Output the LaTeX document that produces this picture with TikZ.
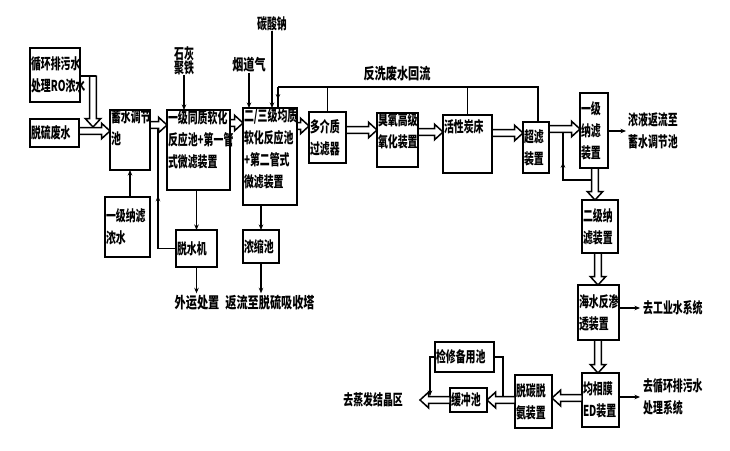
\documentclass[tikz,border=0pt]{standalone}
\usepackage{fontspec}
\setmainfont{Noto Sans CJK SC}[FakeStretch=0.66]
\newfontfamily\widecjk{Noto Sans CJK SC}[FakeStretch=0.72]
\usetikzlibrary{arrows.meta,calc,decorations.markings}
\newcommand\boxfont{\bfseries\fontsize{15}{22}\selectfont}
\newcommand\lblfont{\widecjk\bfseries\fontsize{15.5}{22}\selectfont}
\newcommand\dblsw{3.3pt}
\newcommand\dblhw{7.8pt}
\newcommand\dblhl{8.5pt}
\newcommand\blk[7]{\node[box, anchor=north west, minimum width=#4pt, minimum height=#5pt] (#1) at (#2,#3) {\parbox[c][#5pt][#6]{\dimexpr#4pt-2pt\relax}{\raggedright #7}};}
\tikzset{
  box/.style={draw, line width=1.4pt, inner sep=0pt, outer sep=0pt, font=\boxfont},
  lbl/.style={inner sep=0pt, align=left, font=\boxfont},
  wlbl/.style={inner sep=0pt, align=left, font=\lblfont},
  ln/.style={line width=1.2pt},
  conn/.style={ln, -{Stealth[length=5.5pt,width=4.5pt]}},
  midarr/.style={postaction={decorate}, decoration={markings, mark=at position #1 with {\arrow{Stealth[length=5.5pt,width=4.5pt]}}}},
  dbl/.style={draw, fill=white, line width=1.5pt, line join=miter},
  dblR/.style={dbl, to path={let \p1=(\tikztostart), \p2=(\tikztotarget) in
    (\x1,\y1+\dblsw) -- (\x2-\dblhl,\y1+\dblsw) -- (\x2-\dblhl,\y1+\dblhw) -- (\x2,\y1) -- (\x2-\dblhl,\y1-\dblhw) -- (\x2-\dblhl,\y1-\dblsw) -- (\x1,\y1-\dblsw) -- cycle}},
  dblL/.style={dbl, to path={let \p1=(\tikztostart), \p2=(\tikztotarget) in
    (\x1,\y1+\dblsw) -- (\x2+\dblhl,\y1+\dblsw) -- (\x2+\dblhl,\y1+\dblhw) -- (\x2,\y1) -- (\x2+\dblhl,\y1-\dblhw) -- (\x2+\dblhl,\y1-\dblsw) -- (\x1,\y1-\dblsw) -- cycle}},
  dblD/.style={dbl, to path={let \p1=(\tikztostart), \p2=(\tikztotarget) in
    (\x1+\dblsw,\y1) -- (\x1+\dblsw,\y2+\dblhl) -- (\x1+\dblhw,\y2+\dblhl) -- (\x1,\y2) -- (\x1-\dblhw,\y2+\dblhl) -- (\x1-\dblsw,\y2+\dblhl) -- (\x1-\dblsw,\y1) -- cycle}},
}
\begin{document}
\begin{tikzpicture}[x=1pt,y=-1pt]
\useasboundingbox[fill=white] (0,0) rectangle (730,450);
% boxes
\blk{ro}{30}{48}{50}{54}{c}{循环排污水\\处理RO浓水}
\blk{tl}{30}{119}{49}{28}{c}{脱硫废水}
\blk{xs}{110}{110}{40}{60}{t}{蓄水调节\\池}
\blk{nfc}{105}{197}{45}{60}{c}{一级纳滤\\浓水}
\blk{ra}{167}{110}{63}{80}{t}{一级同质软化\\反应池+第一管\\式微滤装置}
\blk{rb}{243}{108}{54}{97}{t}{二/三级均质\\软化反应池\\+第二管式\\微滤装置}
\blk{ts}{176}{230}{41}{37}{c}{脱水机}
\blk{ns}{243}{230}{36}{33}{c}{浓缩池}
\blk{dm}{309}{112}{37}{51}{c}{多介质\\过滤器}
\blk{oz}{377}{113}{41}{54}{t}{臭氧高级\\氧化装置}
\blk{ac}{443}{115}{49}{58}{t}{\vspace*{4pt}活性炭床}
\blk{uf}{523}{122}{26}{51}{c}{超滤\\装置}
\blk{nf}{580}{93}{28}{75}{c}{一级\\纳滤\\装置}
\blk{nfb}{582}{200}{36}{53}{c}{二级纳\\滤装置}
\blk{sw}{578}{285}{41}{55}{c}{海水反渗\\透装置}
\blk{ed}{582}{373}{37}{54}{c}{均相膜\\ED装置}
\blk{dc}{515}{375}{37}{53}{c}{脱碳脱\\氨装置}
\blk{bf}{450}{388}{37}{24}{c}{缓冲池}
\blk{jx}{435}{342}{59}{30}{c}{检修备用池}
% labels
\node[lbl] (shh) at (184,54) {石灰};
\node[lbl] (jt) at (184,68) {聚铁};
\node[wlbl] (ydq) at (249,65) {烟道气};
\node[lbl] (tsn) at (272,24) {碳酸钠};
\node[wlbl] (fxl) at (397,74) {反洗废水回流};
\node[wlbl] (wy) at (197,303) {外运处置};
\node[wlbl] (fl) at (270,303) {返流至脱硫吸收塔};
\node[lbl, anchor=west] (nyl) at (628,131) {浓液返流至\\蓄水调节池};
\node[lbl, anchor=west] (gy) at (643,308) {去工业水系统};
\node[lbl, anchor=west] (gx) at (643,397) {去循环排污水\\处理系统};
\node[lbl, anchor=east] (zf) at (403,400) {去蒸发结晶区};
% helper coordinates
\coordinate (roj) at (93,76);
\coordinate (roe) at (93,127);
\coordinate (j1) at (158,125);
\coordinate (bw1) at (538,87);
\coordinate (bw2) at (278,87);
\coordinate (n1) at (595,180);
\coordinate (n2) at (563,129);
\coordinate (k1) at (503,400);
\coordinate (k2) at (430,396);
\coordinate (zfa) at (420,400);
% thin connectors
\draw[conn] (xs.south |- nfc.north) -- (xs.south);
\draw[ln, midarr=0.5] (ts.west) -| (j1);
\draw[conn] (ts.north |- ra.south) -- (ts.north);
\draw[conn, shorten >=2pt] (ts.south) -- (ts.south |- wy.north);
\draw[conn] (ns.north |- rb.south) -- (ns.north);
\draw[conn, shorten >=2pt] (ns.south) -- (ns.south |- fl.north);
\draw[conn] (jt.south) -- (jt.south |- ra.north);
\draw[conn] (ydq.south) -- (ydq.south |- rb.north);
\draw[conn] (tsn.south) -- (tsn.south |- rb.north);
\draw[ln] (uf.north -| bw1) -- (bw1) -- (bw2);
\draw[ln, midarr=0.6] (bw2) -- (rb.north -| bw2);
\draw[ln] (dm.north |- bw1) -- (dm.north);
\draw[ln] (ac.north |- bw1) -- (ac.north);
\draw[ln, midarr=0.6] (n1) -| (n2);
\draw[conn, shorten >=2pt] (nf.east |- nyl.west) -- (nyl.west);
\draw[conn, shorten >=3pt] (sw.east |- gy.west) -- (gy.west);
\draw[conn, shorten >=3pt] (ed.east |- gx.west) -- (gx.west);
\draw[ln] (jx.east) -| (k1);
\draw[conn] (jx.west) -| (k2);
\draw[ln] (ro.east |- roj) -- ([xshift=3pt]roj);
% double arrows
\draw[dblD] (roj) to (roe);
\draw[dblR] (tl.east |- 0,131) to (xs.west |- 0,131);
\draw[dblR] (xs.east |- 0,125) to (ra.west |- 0,125);
\draw[dblR] (ra.east |- 0,123) to (rb.west |- 0,123);
\draw[dblR] (rb.east |- 0,126) to (dm.west |- 0,126);
\draw[dblR] (dm.east |- 0,130) to (oz.west |- 0,130);
\draw[dblR] (oz.east |- 0,132) to (ac.west |- 0,132);
\draw[dblR] (ac.east |- 0,133) to (uf.west |- 0,133);
\draw[dblR] (uf.east |- 0,129) to (nf.west |- 0,129);
\draw[dblD] (nf.south -| 595,0) to (nfb.north -| 595,0);
\draw[dblD] (nfb.south -| 598,0) to (sw.north -| 598,0);
\draw[dblD] (sw.south -| 598,0) to (ed.north -| 598,0);
\draw[dblL] (ed.west |- 0,398) to (dc.east |- 0,398);
\draw[dblL] (dc.west |- 0,400) to (bf.east |- 0,400);
\draw[dblL] (bf.west |- 0,400) to (zfa);
\end{tikzpicture}
\end{document}
